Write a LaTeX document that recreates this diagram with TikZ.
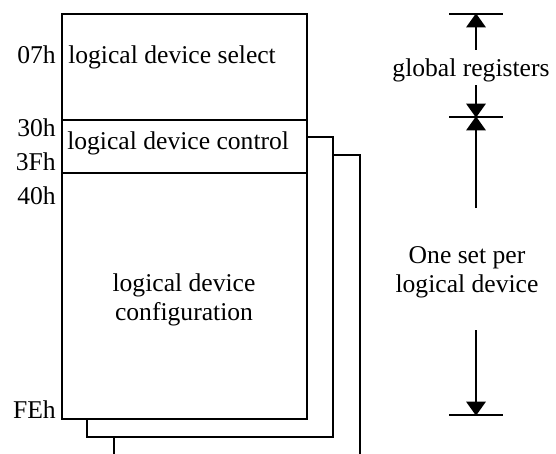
\documentclass[tikz,border=0pt]{standalone}
\usepackage{fontspec}
\setmainfont{Liberation Serif}
\usetikzlibrary{arrows.meta}
\tikzset{
  line/.style={line width=1.5pt},
  regbox/.style={line, fill=white},
  lbl/.style={inner sep=0pt, font=\fontsize{19.2pt}{21.5pt}\selectfont},
  dimarrow/.style={line, -{Triangle[length=10.5pt,width=14.5pt]}, shorten >=-0.5pt},
}
\begin{document}
\begin{tikzpicture}[x=0.75pt,y=-0.75pt]
\useasboundingbox (0,0) rectangle (556,453);
\clip (0,0) rectangle (556,453);
% stacked register sets (back to front)
\coordinate (c3a) at (114,155); \coordinate (c3b) at (360,475);
\coordinate (c2a) at (87,137);  \coordinate (c2b) at (333,437);
\coordinate (c1a) at (62,14);   \coordinate (c1b) at (307,419);
\draw[regbox] (c3a) rectangle (c3b);
\draw[regbox] (c2a) rectangle (c2b);
\draw[regbox] (c1a) rectangle (c1b);
\coordinate (s1a) at (62,120); \coordinate (s1b) at (307,120);
\coordinate (s2a) at (62,173); \coordinate (s2b) at (307,173);
\draw[line] (s1a) -- (s1b);
\draw[line] (s2a) -- (s2b);
% texts
\node[lbl, anchor=base east] (a07) at (56,64) {07h};
\node[lbl, anchor=base west] (sel) at (68,64) {logical device select};
\node[lbl, anchor=base east] (a30) at (56,136) {30h};
\node[lbl, anchor=base west] (ctl) at (67,149) {logical device control};
\node[lbl, anchor=base east] (a3f) at (56,170) {3Fh};
\node[lbl, anchor=base east] (a40) at (56,204) {40h};
\node[lbl, align=center] (cfg) at (184,300) {logical device\\configuration};
\node[lbl, anchor=base east] (afe) at (56,418) {FEh};
% dimension marks
\coordinate (t1a) at (449,14);  \coordinate (t1b) at (503,14);
\coordinate (t2a) at (449,117); \coordinate (t2b) at (503,117);
\coordinate (t3a) at (449,415); \coordinate (t3b) at (503,415);
\draw[line] (t1a) -- (t1b);
\draw[line] (t2a) -- (t2b);
\draw[line] (t3a) -- (t3b);
\coordinate (p1) at (476,14);
\coordinate (p2) at (476,117);
\coordinate (p3) at (476,415);
\coordinate (q1) at (476,50);
\coordinate (q2) at (476,85);
\coordinate (q3) at (476,208);
\coordinate (q4) at (476,330);
\draw[dimarrow] (q1) -- (p1);
\draw[dimarrow] (q2) -- (p2);
\draw[dimarrow] (q3) -- (p2);
\draw[dimarrow] (q4) -- (p3);
\node[lbl, anchor=base] (glob) at (471,76) {global registers};
\node[lbl, align=center] (per) at (467,272) {One set per\\logical device};
\end{tikzpicture}
\end{document}
